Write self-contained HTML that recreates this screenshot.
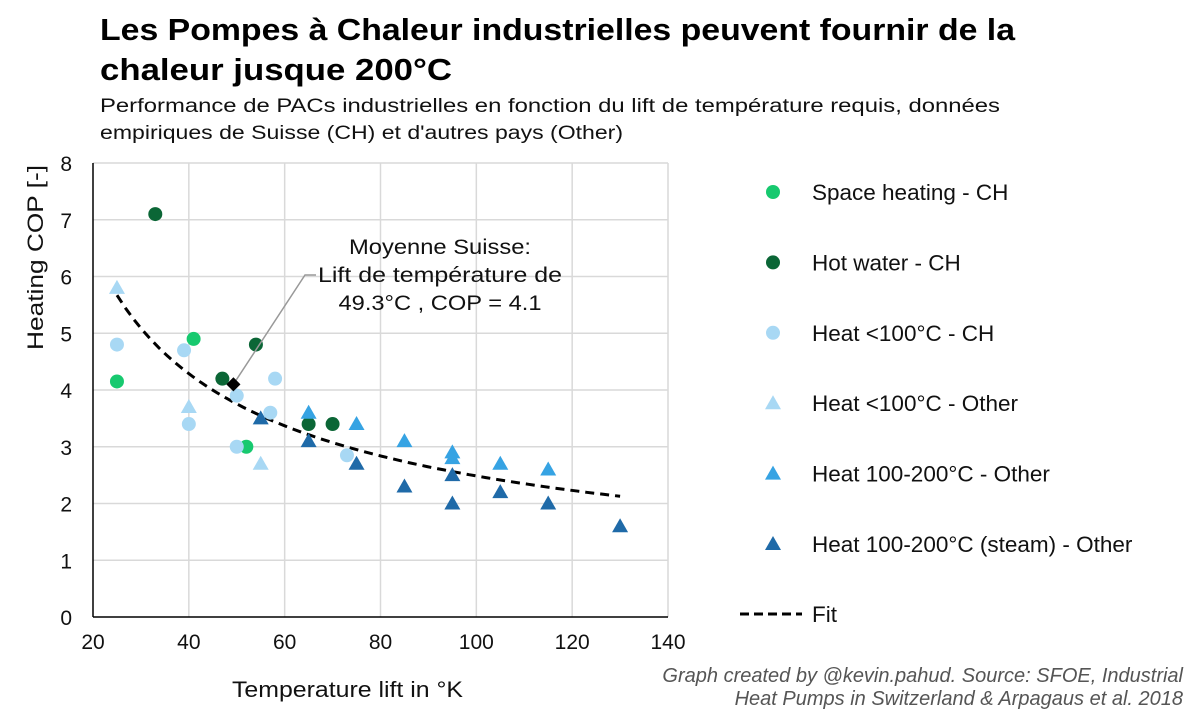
<!DOCTYPE html>
<html><head><meta charset="utf-8"><style>
html,body{margin:0;padding:0;background:#fff;}
svg{display:block;font-family:"Liberation Sans",sans-serif;}
</style></head><body>
<svg id="chart" width="1200" height="714" viewBox="0 0 1200 714" xmlns="http://www.w3.org/2000/svg">
<text x="100" y="40" font-size="31" font-weight="bold" fill="#000" textLength="915" lengthAdjust="spacingAndGlyphs">Les Pompes à Chaleur industrielles peuvent fournir de la</text>
<text x="100" y="80" font-size="31" font-weight="bold" fill="#000" textLength="352" lengthAdjust="spacingAndGlyphs">chaleur jusque 200°C</text>
<text x="100" y="112" font-size="19" fill="#111" textLength="900" lengthAdjust="spacingAndGlyphs">Performance de PACs industrielles en fonction du lift de température requis, données</text>
<text x="100" y="139" font-size="19" fill="#111" textLength="523" lengthAdjust="spacingAndGlyphs">empiriques de Suisse (CH) et d'autres pays (Other)</text>
<g id="grid"></g>
<g id="axes"></g>
<g id="fit"></g>
<g id="marks"></g>
<g id="annot"></g>
<g id="legend"></g>
<text x="232" y="697" font-size="22" fill="#111" textLength="231" lengthAdjust="spacingAndGlyphs">Temperature lift in °K</text>
<text transform="translate(43,350) rotate(-90)" font-size="22" fill="#111" textLength="185" lengthAdjust="spacingAndGlyphs">Heating COP [-]</text>
<text x="1183" y="682" font-size="20" font-style="italic" text-anchor="end" fill="#555">Graph created by @kevin.pahud. Source: SFOE, Industrial</text>
<text x="1183" y="705" font-size="20" font-style="italic" text-anchor="end" fill="#555">Heat Pumps in Switzerland &amp; Arpagaus et al. 2018</text>
</svg>
<script>
const xTicks=[20,40,60,80,100,120,140];
const yTicks=[0,1,2,3,4,5,6,7,8];
const seriesNames=["Space heating - CH","Hot water - CH","Heat <100°C - CH","Heat <100°C - Other","Heat 100-200°C - Other","Heat 100-200°C (steam) - Other"];
const spaceX=[25,41,52];
const spaceY=[4.15,4.9,3.0];
const hotX=[33,47,54,65,70];
const hotY=[7.1,4.2,4.8,3.4,3.4];
const lowChX=[25,39,40,50,50,57,58,73];
const lowChY=[4.8,4.7,3.4,3.9,3.0,3.6,4.2,2.85];
const lowOtX=[25,40,55];
const lowOtY=[5.8,3.7,2.7];
const midX=[65,75,85,95,95,105,115];
const midY=[3.6,3.4,3.1,2.9,2.8,2.7,2.6];
const steamX=[55,65,75,85,95,95,105,115,130];
const steamY=[3.5,3.1,2.7,2.3,2.5,2.0,2.2,2.0,1.6];
const fitA=[38.5];
const fitB=[-0.595];
const fitRange=[25,130];
const avgPoint=[49.3,4.1];

const NS="http://www.w3.org/2000/svg";
const X0=93,X1=668,Y0=617,Y1=163;
const sx=v=>X0+(v-20)/(140-20)*(X1-X0);
const sy=v=>Y0-(v-0)/(8-0)*(Y0-Y1);
function mk(tag,attrs,parent){const e=document.createElementNS(NS,tag);for(const k in attrs)e.setAttribute(k,attrs[k]);document.getElementById(parent).appendChild(e);return e;}

xTicks.forEach(t=>{
  if(t>20){const l=mk('line',{x1:sx(t),x2:sx(t),y1:Y1,y2:Y0,stroke:'#d9d9d9','stroke-width':1.5},'grid');
  
  }
  const tx=mk('text',{x:sx(t),y:649,'font-size':21,'text-anchor':'middle',fill:'#111'},'axes');tx.textContent=t;
  
  
});
yTicks.forEach(t=>{
  if(t>0){const l=mk('line',{x1:X0,x2:X1,y1:sy(t),y2:sy(t),stroke:'#d9d9d9','stroke-width':1.5},'grid');
  
  }
  const tx=mk('text',{x:72,y:sy(t)+8,'font-size':21,'text-anchor':'end',fill:'#111'},'axes');tx.textContent=t;
  
  
});
let ax=mk('line',{x1:X0,x2:X0,y1:Y1,y2:Y0,stroke:'#000','stroke-width':1.5},'axes');


ax=mk('line',{x1:X0,x2:X1,y1:Y0,y2:Y0,stroke:'#000','stroke-width':1.5},'axes');



let d='';
for(let i=0;i<=60;i++){const v=fitRange[0]+(fitRange[1]-fitRange[0])*i/60;const c=fitA[0]*Math.pow(v,fitB[0]);d+=(i?'L':'M')+sx(v).toFixed(1)+' '+sy(c).toFixed(1);}
const fp=mk('path',{d:d,fill:'none',stroke:'#000','stroke-width':3,'stroke-dasharray':'9 6'},'fit');



const colors=['#17c96f','#0b6636','#a8d8f4','#a8d8f4','#36a3e3','#1f6aa8'];
function circ(x,y,c,parent){return mk('circle',{cx:x,cy:y,r:7,fill:c},parent);}
function tri(x,y,c,parent){return mk('path',{d:`M${x} ${y-8}L${x+8} ${y+6}L${x-8} ${y+6}Z`,fill:c},parent);}
const sets=[[spaceX,spaceY,'c'],[hotX,hotY,'c'],[lowChX,lowChY,'c'],[lowOtX,lowOtY,'t'],[midX,midY,'t'],[steamX,steamY,'t']];
const markNames=['space-heating-point','hot-water-point','heat-low-ch-point','heat-low-other-point','heat-mid-other-point','heat-steam-other-point'];
sets.forEach((s,k)=>{
  s[0].forEach((xv,i)=>{
    const e=s[2]==='c'?circ(sx(xv),sy(s[1][i]),colors[k],'marks'):tri(sx(xv),sy(s[1][i]),colors[k],'marks');
    
    
  });
});

const ap=[sx(avgPoint[0]),sy(avgPoint[1])];
const al=mk('polyline',{points:`${ap[0]},${ap[1]} 305,275 316,275`,fill:'none',stroke:'#999','stroke-width':1.5},'annot');


const am=mk('rect',{x:ap[0]-5,y:ap[1]-5,width:10,height:10,fill:'#000',transform:`rotate(45 ${ap[0]} ${ap[1]})`},'annot');


const annLines=["Moyenne Suisse:","Lift de température de","49.3°C , COP = 4.1"];
const annW=[182,244,203];
annLines.forEach((t,i)=>{
  const e=mk('text',{x:440-annW[i]/2,y:254+i*28,'font-size':21,fill:'#111',textLength:annW[i],lengthAdjust:'spacingAndGlyphs'},'annot');e.textContent=t;
  
  
});

seriesNames.forEach((n,k)=>{
  const y=192+k*70.4;
  const m=sets[k][2]==='c'?circ(773,y,colors[k],'legend'):tri(773,y,colors[k],'legend');
  
  
  const t=mk('text',{x:812,y:y+8,'font-size':22.5,fill:'#111'},'legend');t.textContent=n;
  
  
});
const lf=mk('line',{x1:740,x2:802,y1:614,y2:614,stroke:'#000','stroke-width':3,'stroke-dasharray':'9 5'},'legend');


const lt=mk('text',{x:812,y:622,'font-size':22.5,fill:'#111'},'legend');lt.textContent='Fit';


</script>
</body></html>
